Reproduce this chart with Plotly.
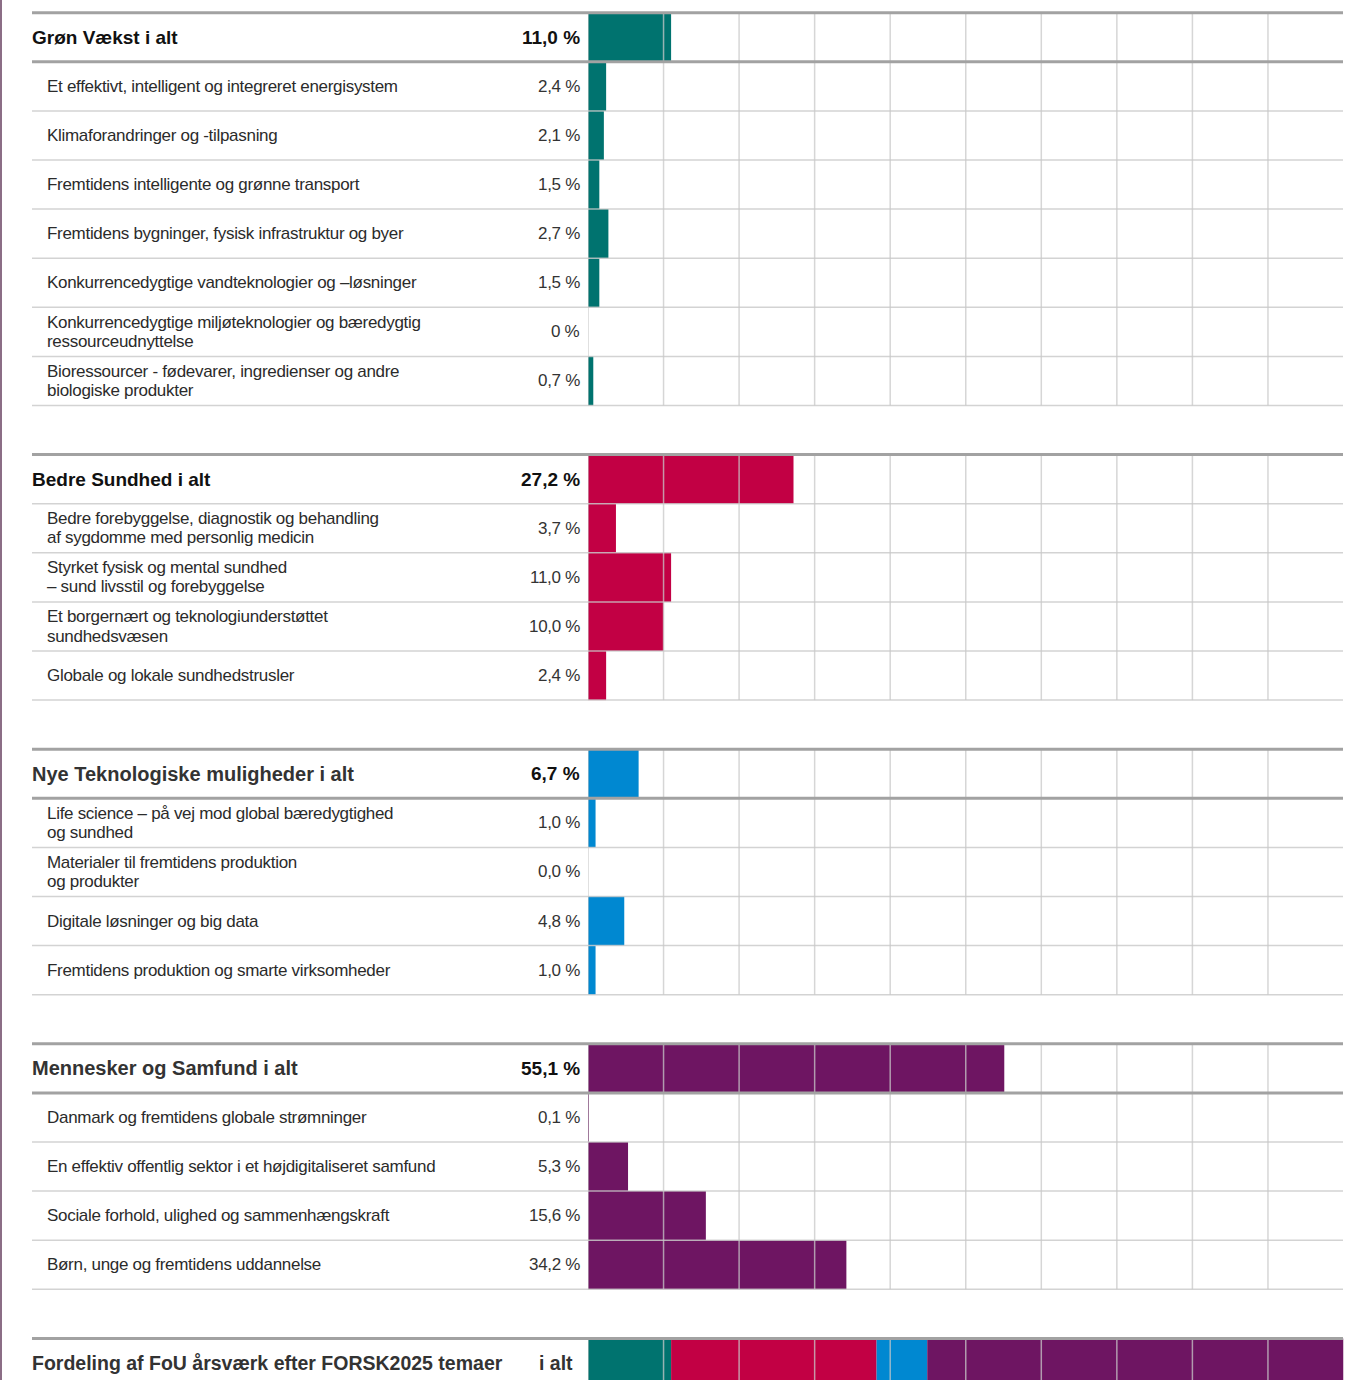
import plotly.graph_objects as go

W, H = 1348, 1380

# ---------------- data ----------------
group_names = ["Grøn Vækst i alt", "Bedre Sundhed i alt",
               "Nye Teknologiske muligheder i alt", "Mennesker og Samfund i alt"]
group_totals = [11.0, 27.2, 6.7, 55.1]
group_total_labels = ["11,0 %", "27,2 %", "6,7 %", "55,1 %"]
group_colors = ["#00736f", "#c20044", "#0088d1", "#6e1562"]

green_labels = ["Et effektivt, intelligent og integreret energisystem",
                "Klimaforandringer og -tilpasning",
                "Fremtidens intelligente og grønne transport",
                "Fremtidens bygninger, fysisk infrastruktur og byer",
                "Konkurrencedygtige vandteknologier og –løsninger",
                "Konkurrencedygtige miljøteknologier og bæredygtig<br>ressourceudnyttelse",
                "Bioressourcer - fødevarer, ingredienser og andre<br>biologiske produkter"]
green_values = [2.4, 2.1, 1.5, 2.7, 1.5, 0.0, 0.7]
green_value_labels = ["2,4 %", "2,1 %", "1,5 %", "2,7 %", "1,5 %", "0 %", "0,7 %"]

health_labels = ["Bedre forebyggelse, diagnostik og behandling<br>af sygdomme med personlig medicin",
                 "Styrket fysisk og mental sundhed<br>– sund livsstil og forebyggelse",
                 "Et borgernært og teknologiunderstøttet<br>sundhedsvæsen",
                 "Globale og lokale sundhedstrusler"]
health_values = [3.7, 11.0, 10.0, 2.4]
health_value_labels = ["3,7 %", "11,0 %", "10,0 %", "2,4 %"]

tech_labels = ["Life science – på vej mod global bæredygtighed<br>og sundhed",
               "Materialer til fremtidens produktion<br>og produkter",
               "Digitale løsninger og big data",
               "Fremtidens produktion og smarte virksomheder"]
tech_values = [1.0, 0.0, 4.8, 1.0]
tech_value_labels = ["1,0 %", "0,0 %", "4,8 %", "1,0 %"]

people_labels = ["Danmark og fremtidens globale strømninger",
                 "En effektiv offentlig sektor i et højdigitaliseret samfund",
                 "Sociale forhold, ulighed og sammenhængskraft",
                 "Børn, unge og fremtidens uddannelse"]
people_values = [0.1, 5.3, 15.6, 34.2]
people_value_labels = ["0,1 %", "5,3 %", "15,6 %", "34,2 %"]

summary_label = "Fordeling af FoU årsværk efter FORSK2025 temaer"
summary_right = "i alt"
grid_ticks = [0, 10, 20, 30, 40, 50, 60, 70, 80, 90]

sub_labels = [green_labels, health_labels, tech_labels, people_labels]
sub_values = [green_values, health_values, tech_values, people_values]
sub_value_labels = [green_value_labels, health_value_labels, tech_value_labels, people_value_labels]

# ---------------- layout geometry ----------------
ROW0, ROWH = 12.7, 49.1
def px(x):
    return x / W

LABEL_X = px(30)
SUB_X = px(45)
VAL_X = px(582)
LINE_X0, LINE_X1 = px(32), px(1343)

FONT = "Liberation Sans"
SUB_STYLE = "letter-spacing:-0.3px"

fig = go.Figure()
annotations = []
shapes = []

def add_text(text, x, y, size, color, xanchor="left", bold=False, spacing=None):
    t = text
    if spacing:
        t = f'<span style="{spacing}">{t}</span>'
    if bold:
        t = f"<b>{t}</b>"
    annotations.append(dict(text=t, x=x, y=y, xref="paper", yref="y",
                            xanchor=xanchor, yanchor="middle", showarrow=False,
                            font=dict(family=FONT, size=size, color=color)))

def hline(y, width, color):
    shapes.append(dict(type="line", xref="paper", yref="y", x0=LINE_X0, x1=LINE_X1,
                       y0=y, y1=y, line=dict(color=color, width=width), layer="above"))

THICK = "#a2a2a2"
THIN = "rgba(200,200,200,0.8)"
GRID = "rgba(200,200,200,0.75)"
header_colors = ["#111111", "#111111", "#333333", "#333333"]

row = 0
for g in range(4):
    n = len(sub_labels[g])
    top = row
    rows_y = [row + 0.5] + [row + 1 + i + 0.5 for i in range(n)]
    vals = [group_totals[g]] + sub_values[g]
    fig.add_trace(go.Bar(x=vals, y=rows_y, orientation="h", width=1.0, base=0,
                         marker=dict(color=group_colors[g], line=dict(width=0)),
                         hoverinfo="skip", showlegend=False))
    # header texts
    add_text(group_names[g], LABEL_X, row + 0.5, 20 if g >= 2 else 19, header_colors[g], bold=True)
    add_text(group_total_labels[g], VAL_X, row + 0.5, 19, "#111111", xanchor="right", bold=True)
    # sub rows
    for i in range(n):
        yc = row + 1 + i + 0.5
        parts = sub_labels[g][i].split("<br>")
        if len(parts) == 1:
            add_text(parts[0], SUB_X, yc, 17, "#2b2b2b", spacing=SUB_STYLE)
        else:
            add_text(parts[0], SUB_X, yc - 0.195, 17, "#2b2b2b", spacing=SUB_STYLE)
            add_text(parts[1], SUB_X, yc + 0.195, 17, "#2b2b2b", spacing=SUB_STYLE)
        add_text(sub_value_labels[g][i], VAL_X, yc, 17, "#333333", xanchor="right", spacing=SUB_STYLE)
    bottom = row + 1 + n
    # vertical grid lines
    for t in grid_ticks:
        shapes.append(dict(type="line", xref="x", yref="y", x0=t, x1=t, y0=top, y1=bottom,
                           line=dict(color=GRID, width=1.5), layer="above"))
    # horizontal lines
    for k in range(row + 2, bottom + 1):
        hline(k, 1.5, THIN)
    hline(row + 1, 3 if g != 1 else 1.5, THICK if g != 1 else THIN)
    hline(row, 3, THICK)
    row = bottom + 1

# summary row (stacked distribution)
base = 0.0
for g in range(4):
    fig.add_trace(go.Bar(x=[group_totals[g]], y=[row + 0.5], base=[base], orientation="h",
                         width=1.0, marker=dict(color=group_colors[g], line=dict(width=0)),
                         hoverinfo="skip", showlegend=False))
    base += group_totals[g]
for t in grid_ticks:
    shapes.append(dict(type="line", xref="x", yref="y", x0=t, x1=t, y0=row, y1=row + 1,
                       line=dict(color=GRID, width=1.5), layer="above"))
hline(row, 3, THICK)
add_text(summary_label, LABEL_X, row + 0.5, 19.5, "#333333", bold=True)
add_text(summary_right, px(575), row + 0.5, 19.5, "#333333", xanchor="right", bold=True)

# left page border
shapes.append(dict(type="line", xref="paper", yref="paper", x0=px(1), x1=px(1), y0=0, y1=1,
                   line=dict(color="#8b6d86", width=2), layer="above"))

y_top = -ROW0 / ROWH
y_bot = (H - ROW0) / ROWH

fig.update_layout(
    width=W, height=H, autosize=False,
    margin=dict(l=0, r=0, t=0, b=0, pad=0),
    paper_bgcolor="white", plot_bgcolor="white",
    barmode="overlay", showlegend=False,
    xaxis=dict(domain=[px(588), px(1343.5)], range=[0, 100], visible=False, fixedrange=True),
    yaxis=dict(domain=[0, 1], range=[y_bot, y_top], visible=False, fixedrange=True),
    annotations=annotations, shapes=shapes,
)

fig.write_html("out.html", config={"displayModeBar": False},
               post_script="document.body.style.margin='0';")
